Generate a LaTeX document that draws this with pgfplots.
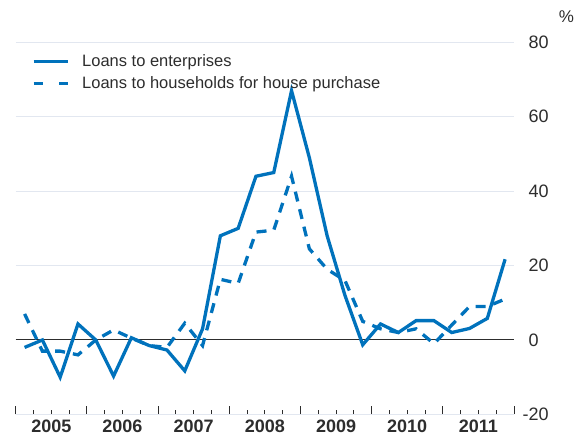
\documentclass[border=0pt]{standalone}
\usepackage{pgfplots}
\pgfplotsset{compat=1.18}
\usepackage{fontspec}
\setmainfont{Liberation Sans}
\definecolor{ecbblue}{RGB}{0,114,188}
\definecolor{gridc}{RGB}{226,231,240}
\definecolor{tickc}{RGB}{45,45,45}
\begin{document}
\begin{tikzpicture}
\useasboundingbox (0,0) rectangle (583bp,436bp);
\begin{axis}[
  at={(15.7bp,21.6bp)}, anchor=south west,
  scale only axis, width=498.3bp, height=372.1bp,
  xmin=0, xmax=28, ymin=-20, ymax=80,
  axis x line*=bottom, axis y line*=right,
  x axis line style={gridc, line width=1bp, -},
  y axis line style={draw=none, -},
  xtick={0,4,...,28}, xticklabels={},
  minor x tick num=3,
  tick align=inside,
  major tick length=8bp, minor tick length=4bp,
  xtick style={tickc, line width=0.9bp},
  extra x ticks={2,6,...,26},
  extra x tick labels={2005,2006,2007,2008,2009,2010,2011},
  extra x tick style={major tick length=0pt, xtick style={draw=none}},
  xticklabel style={font=\fontsize{18bp}{20bp}\selectfont\bfseries, text=tickc, inner sep=2bp, yshift=-3.5bp},
  ytick={-20,0,20,40,60,80},
  yticklabels={\llap{-}20,0,20,40,60,80},
  ytick style={draw=none},
  yticklabel style={anchor=west, font=\fontsize{18bp}{20bp}\selectfont, text=tickc, xshift=11bp},
  ymajorgrids, major grid style={gridc, line width=1bp},
  extra y ticks={0}, extra y tick labels={},
  extra y tick style={major grid style={tickc, line width=1bp}},
  legend image code/.code={\draw[#1] (0bp,0bp) -- (34bp,0bp); \path (44bp,0bp);},
  legend cell align=left,
  legend style={at={(axis description cs:0,1)}, anchor=north west, xshift=16bp, yshift=-8bp,
    draw=none, fill=none, inner sep=0pt, font=\fontsize{16.5bp}{19bp}\selectfont,
    text=tickc, nodes={inner xsep=3bp, inner ysep=4.3bp}},
]
\addplot[ecbblue, line width=3.3bp, line join=miter, mark=none, forget plot] coordinates {
(0.5,-2) (1.5,0) (2.5,-10) (3.5,4.3)
(4.5,0) (5.5,-9.7) (6.5,0.6) (7.5,-1.5)
(8.5,-2.7) (9.5,-8.3) (10.5,3) (11.5,28)
(12.5,30) (13.5,44) (14.5,45) (15.5,67)
(16.5,49) (17.5,28) (18.5,12) (19.5,-1.3)
(20.5,4.3) (21.5,2) (22.5,5.2) (23.5,5.2)
(24.5,2) (25.5,3.1) (26.5,5.8) (27.5,21.7)
};
\addplot[ecbblue, line width=3.3bp, dash pattern=on 10bp off 8bp, mark=none, forget plot] coordinates {
(0.5,7) (1.5,-3) (2.5,-3) (3.5,-4)
(4.5,0) (5.5,2.7) (6.5,0.5) (7.5,-1.5)
(8.5,-2) (9.5,4.5) (10.5,-1.5) (11.5,16.3)
(12.5,15.2) (13.5,29) (14.5,29.5) (15.5,44)
(16.5,24.5) (17.5,19) (18.5,16) (19.5,5)
(20.5,3) (21.5,2) (22.5,3) (23.5,-1)
(24.5,4) (25.5,9) (26.5,9) (27.5,11)
};
\addlegendimage{ecbblue, line width=3.3bp}
\addlegendentry{Loans to enterprises}
\addlegendimage{ecbblue, line width=3.3bp, dash pattern=on 9bp off 16.6bp}
\addlegendentry{Loans to households for house purchase}
\end{axis}
\node[font=\fontsize{17bp}{19bp}\selectfont, text=tickc] at (566.5bp,419.3bp) {\%};
\end{tikzpicture}
\end{document}
